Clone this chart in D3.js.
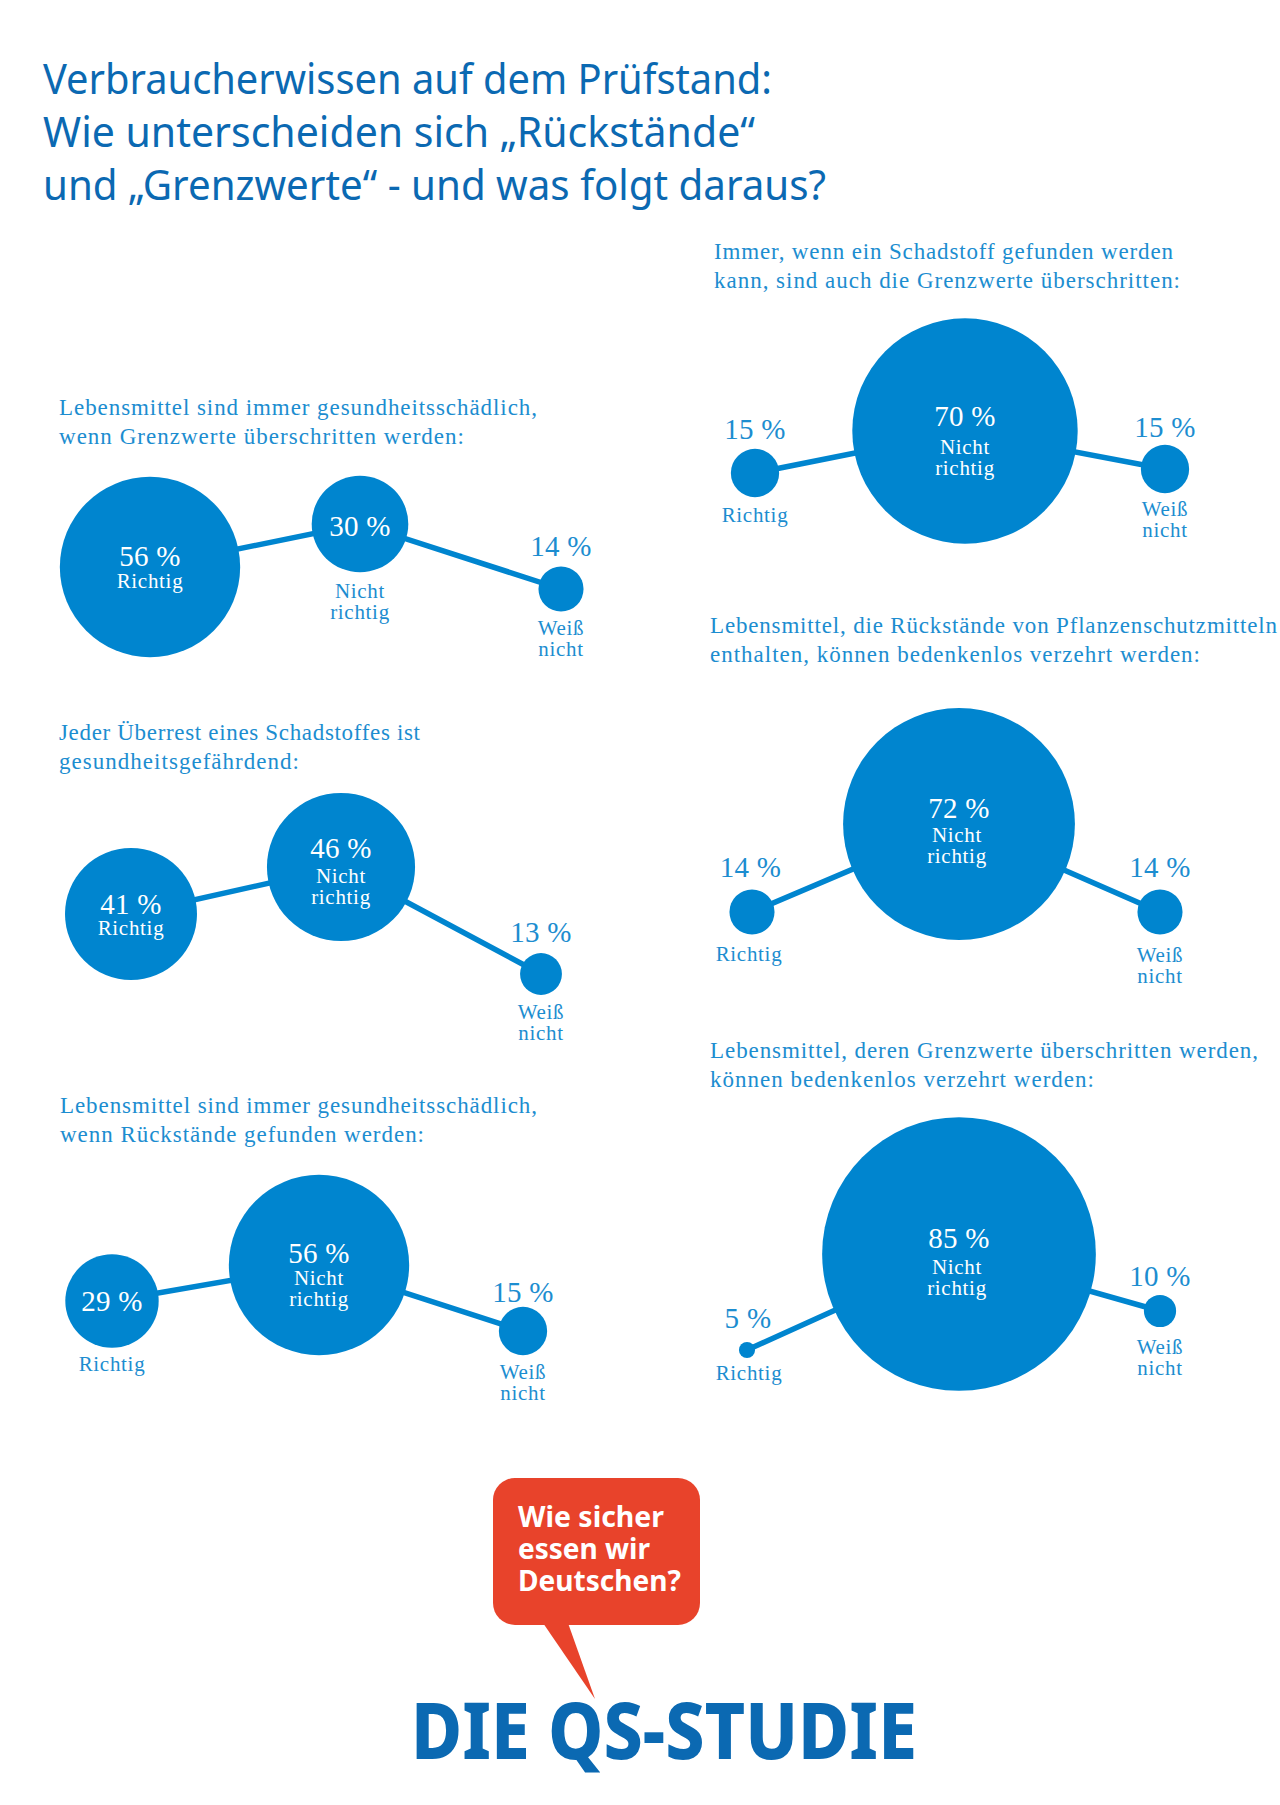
<!DOCTYPE html>
<html>
<head>
<meta charset="utf-8">
<script src="https://cdn.jsdelivr.net/npm/d3@7/dist/d3.min.js"></script>
<style>
  html, body { margin: 0; padding: 0; background: #fff; }
  svg { display: block; }
</style>
</head>
<body>
<script>
// data
var categories = ['Richtig', 'Nicht richtig', 'Weiß nicht'];
var richtig = [56, 41, 29, 15, 14, 5];
var nichtRichtig = [30, 46, 56, 70, 72, 85];
var weissNicht = [14, 13, 15, 15, 14, 10];
var questions = [
  ['Lebensmittel sind immer gesundheitsschädlich,', 'wenn Grenzwerte überschritten werden:'],
  ['Jeder Überrest eines Schadstoffes ist', 'gesundheitsgefährdend:'],
  ['Lebensmittel sind immer gesundheitsschädlich,', 'wenn Rückstände gefunden werden:'],
  ['Immer, wenn ein Schadstoff gefunden werden', 'kann, sind auch die Grenzwerte überschritten:'],
  ['Lebensmittel, die Rückstände von Pflanzenschutzmitteln', 'enthalten, können bedenkenlos verzehrt werden:'],
  ['Lebensmittel, deren Grenzwerte überschritten werden,', 'können bedenkenlos verzehrt werden:']
];
var titleLines = [
  'Verbraucherwissen auf dem Prüfstand:',
  'Wie unterscheiden sich „Rückstände“',
  'und „Grenzwerte“ - und was folgt daraus?'
];
var bubbleLines = ['Wie sicher', 'essen wir', 'Deutschen?'];
var logoText = 'DIE QS-STUDIE';

// layout, one entry per panel
var bubbleX = [
  [150, 360, 561],
  [131, 341, 541],
  [112, 319, 523],
  [755, 965, 1165],
  [752, 959, 1160],
  [747, 959, 1160]
];
var bubbleY = [
  [567, 524, 589],
  [914, 867, 974],
  [1301, 1265, 1331],
  [473, 431, 469],
  [912, 824, 912],
  [1350, 1254, 1311]
];
var questionX = [59, 59, 60, 714, 710, 710];
var questionY = [415, 740, 1113, 259, 633, 1058];
var questionWidths = [
  [478, 405],
  [361, 240],
  [477, 364],
  [459, 466],
  [567, 490],
  [548, 384]
];
// small hand corrections of the label baselines
var valueNudge = [
  [0, 2, 0],
  [1, -4, -1],
  [0, 3, 5],
  [0, 0, 2],
  [-2, -1, -2],
  [-4, -1, 1]
];
var labelNudge = [
  [0, 1, -2],
  [0, -4, -1],
  [-2, 0, -1],
  [0, 3, -2],
  [1, -2, 2],
  [-3, 0, 2]
];
var labelShift = [
  [0, 0, 0],
  [0, 0, 0],
  [0, 0, 0],
  [0, 0, 0],
  [-3, -2, 0],
  [2, -2, 0]
];

var BLUE = '#0085cf';
var TEXT_BLUE = '#1c8dd0';
var TITLE_BLUE = '#0b69b2';
var RED = '#e8432b';
var SERIF = '"Liberation Serif", serif';
var SANS = '"Noto Sans", Lato, sans-serif';

var svg = d3.select('body').append('svg')
  .attr('width', 1280)
  .attr('height', 1805);

// title
var titleWidths = [729, 712, 783];
svg.append('g').selectAll('text')
  .data(titleLines)
  .join('text')
  .attr('x', 43)
  .attr('y', function(d, i) { return 94 + i * 53; })
  .attr('textLength', function(d, i) { return titleWidths[i]; })
  .attr('lengthAdjust', 'spacingAndGlyphs')
  .attr('font-family', SANS)
  .attr('font-size', 41)
  .attr('fill', TITLE_BLUE)
  .text(function(d) { return d; });

// radius is linear in the percentage
var radius = d3.scaleLinear().domain([0, 100]).range([0, 161]);

questions.forEach(function(question, p) {
  var values = [richtig[p], nichtRichtig[p], weissNicht[p]];
  var rows = categories.map(function(c, i) {
    return { category: c, value: values[i], cy: bubbleY[p][i], index: i };
  });
  var x = d3.scaleOrdinal().domain(categories).range(bubbleX[p]);
  var g = svg.append('g').attr('class', 'panel');

  g.selectAll('text.question')
    .data(question)
    .join('text')
    .attr('class', 'question')
    .attr('x', questionX[p])
    .attr('y', function(d, i) { return questionY[p] + i * 28.5; })
    .attr('textLength', function(d, i) { return questionWidths[p][i]; })
    .attr('font-family', SERIF)
    .attr('font-size', 23)
    .attr('fill', TEXT_BLUE)
    .text(function(d) { return d; });

  var line = d3.line()
    .x(function(d) { return x(d.category); })
    .y(function(d) { return d.cy; });

  g.append('path')
    .attr('d', line(rows))
    .attr('fill', 'none')
    .attr('stroke', BLUE)
    .attr('stroke-width', 5.5);

  g.selectAll('circle')
    .data(rows)
    .join('circle')
    .attr('cx', function(d) { return x(d.category); })
    .attr('cy', function(d) { return d.cy; })
    .attr('r', function(d) { return radius(d.value); })
    .attr('fill', BLUE);

  rows.forEach(function(d) {
    var r = radius(d.value);
    var cx = x(d.category);
    var words = d.category.split(' ');
    var valueInside = r >= 40;
    var labelInside = r >= 60;
    var valueY, labelY;

    if (labelInside) {
      valueY = d.cy + (words.length > 1 ? -5 : -1);
      labelY = d.cy + (words.length > 1 ? 20 : 21);
    } else {
      valueY = valueInside ? d.cy + 10 : d.cy - r - 10;
      labelY = d.cy + r + 25;
    }

    g.append('text')
      .attr('x', cx + (valueInside ? 0 : labelShift[p][d.index] / 2))
      .attr('y', valueY + valueNudge[p][d.index])
      .attr('text-anchor', 'middle')
      .attr('font-family', SERIF)
      .attr('font-size', 29)
      .attr('letter-spacing', 0.3)
      .attr('fill', valueInside ? '#fff' : TEXT_BLUE)
      .text(d.value + ' %');

    g.selectAll(null)
      .data(words)
      .join('text')
      .attr('x', cx + labelShift[p][d.index])
      .attr('y', function(w, i) { return labelY + labelNudge[p][d.index] + i * 21; })
      .attr('text-anchor', 'middle')
      .attr('font-family', SERIF)
      .attr('font-size', 21)
      .attr('letter-spacing', 0.7)
      .attr('fill', labelInside ? '#fff' : TEXT_BLUE)
      .text(function(w) { return w; });
  });
});

// speech bubble and logo
var logo = svg.append('g');
logo.append('rect')
  .attr('x', 493)
  .attr('y', 1478)
  .attr('width', 207)
  .attr('height', 147)
  .attr('rx', 22)
  .attr('fill', RED);
logo.append('path')
  .attr('d', 'M543,1623 L568,1623 L595,1699 Z')
  .attr('fill', RED);
var bubbleWidths = [146, 132, 163];
logo.selectAll('text.bubble')
  .data(bubbleLines)
  .join('text')
  .attr('class', 'bubble')
  .attr('x', 518)
  .attr('y', function(d, i) { return 1527 + i * 32; })
  .attr('textLength', function(d, i) { return bubbleWidths[i]; })
  .attr('lengthAdjust', 'spacingAndGlyphs')
  .attr('font-family', SANS)
  .attr('font-weight', 700)
  .attr('font-size', 29)
  .attr('fill', '#fff')
  .text(function(d) { return d; });
logo.append('text')
  .attr('x', 411)
  .attr('y', 1759)
  .attr('textLength', 506)
  .attr('lengthAdjust', 'spacingAndGlyphs')
  .attr('font-family', SANS)
  .attr('font-weight', 800)
  .attr('font-size', 78)
  .attr('fill', TITLE_BLUE)
  .text(logoText);
</script>
</body>
</html>
